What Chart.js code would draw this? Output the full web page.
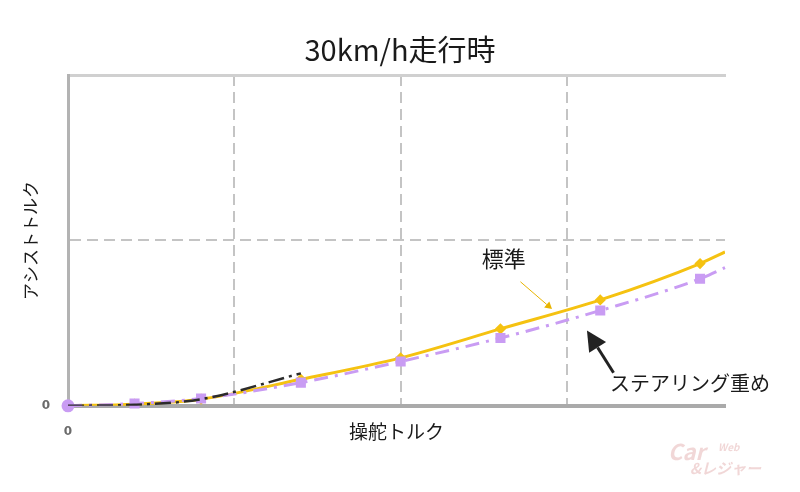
<!DOCTYPE html>
<html lang="ja">
<head>
  <meta charset="UTF-8">
  <title>30km/h走行時</title>
  <script src="https://cdn.jsdelivr.net/npm/chart.js"></script>
  <style>
    html, body { margin: 0; padding: 0; background: #fff; }
    #wrap { width: 800px; height: 492px; }
  </style>
</head>
<body>
<div id="wrap"><canvas id="assistChart" width="800" height="492"></canvas></div>

<script>
  // 操舵トルク (x) の測定点
  const torqueX = [0, 0.4, 0.8, 1.4, 2.0, 2.6, 3.2, 3.8, 3.95];
  // 標準
  const standardY = [0, 0.01, 0.04, 0.16, 0.29, 0.465, 0.64, 0.86, 0.93];
  // ステアリング重め
  const heavyY = [0, 0.014, 0.044, 0.14, 0.268, 0.41, 0.576, 0.768, 0.835];
  // 途中で切れている黒の一点鎖線
  const lightX = [0, 0.4, 0.8, 1.4];
  const lightY = [0, 0.006, 0.04, 0.196];
  // 目盛り
  const xTicks = [0, 1, 2, 3];
  const yTicks = [0, 1, 2];

  const pts = (xs, ys) => xs.map((x, i) => ({ x: x, y: ys[i] }));
  const lastHidden = (r, n) => Array.from({ length: n }, (_, i) => i === n - 1 ? 0 : r);

  const jp = '"Noto Sans CJK JP", "Noto Sans", sans-serif';
  const gridGray = '#c4c4c4';

  // 注記(標準 / ステアリング重め)と矢印
  const notesPlugin = {
    id: 'notes',
    afterDatasetsDraw(chart) {
      const { ctx, scales: { x, y } } = chart;
      const px = v => x.getPixelForValue(v);
      const py = v => y.getPixelForValue(v);

      ctx.save();
      ctx.fillStyle = '#1a1a1a';
      ctx.textAlign = 'center';
      ctx.textBaseline = 'middle';
      ctx.font = '22px ' + jp;
      ctx.fillText('標準', px(2.62), py(0.89));
      ctx.font = '20px ' + jp;
      ctx.fillText('ステアリング重め', px(3.74), py(0.135));

      // 細い黄色の矢印
      arrow(ctx, px(2.72), py(0.75), px(2.91), py(0.585), '#e8b400', 1, 7, 4);
      // 太い黒の矢印
      arrow(ctx, px(3.28), py(0.2), px(3.12), py(0.455), '#222', 3, 20, 10);

      // ウォーターマーク
      ctx.fillStyle = 'rgba(215,140,140,0.35)';
      ctx.font = 'italic bold 22px ' + jp;
      ctx.textAlign = 'left';
      ctx.fillText('Car', 668, 452);
      ctx.font = 'italic bold 10px ' + jp;
      ctx.fillText('Web', 718, 447);
      ctx.font = 'italic bold 15px ' + jp;
      ctx.fillText('&レジャー', 690, 468);
      ctx.restore();
    }
  };

  function arrow(ctx, x1, y1, x2, y2, color, w, headLen, headHalf) {
    const a = Math.atan2(y2 - y1, x2 - x1);
    const bx = x2 - headLen * Math.cos(a);
    const by = y2 - headLen * Math.sin(a);
    ctx.strokeStyle = color;
    ctx.fillStyle = color;
    ctx.lineWidth = w;
    ctx.beginPath();
    ctx.moveTo(x1, y1);
    ctx.lineTo(bx, by);
    ctx.stroke();
    ctx.beginPath();
    ctx.moveTo(x2, y2);
    ctx.lineTo(bx + headHalf * Math.sin(a), by - headHalf * Math.cos(a));
    ctx.lineTo(bx - headHalf * Math.sin(a), by + headHalf * Math.cos(a));
    ctx.closePath();
    ctx.fill();
  }

  new Chart(document.getElementById('assistChart').getContext('2d'), {
    type: 'line',
    data: {
      datasets: [{
        label: '標準',
        data: pts(torqueX, standardY),
        borderColor: '#f5c211',
        backgroundColor: '#f5c211',
        borderWidth: 3,
        pointStyle: 'rectRot',
        pointRadius: lastHidden(3.5, torqueX.length),
        cubicInterpolationMode: 'monotone',
        order: 3
      }, {
        label: 'ステアリング重め',
        data: pts(torqueX, heavyY),
        borderColor: '#c99cf3',
        backgroundColor: '#c99cf3',
        borderWidth: 3,
        borderDash: [14, 7, 3, 7],
        pointStyle: torqueX.map((_, i) => i === 0 ? 'circle' : 'rect'),
        pointRadius: lastHidden(5, torqueX.length),
        clip: false,
        cubicInterpolationMode: 'monotone',
        order: 2
      }, {
        label: 'ステアリング軽め',
        data: pts(lightX, lightY),
        borderColor: '#2b2b2b',
        borderWidth: 2.5,
        borderDash: [16, 5, 3, 5],
        pointRadius: 0,
        cubicInterpolationMode: 'monotone',
        order: 1
      }]
    },
    options: {
      responsive: false,
      animation: false,
      devicePixelRatio: 1,
      layout: { padding: { left: 0, right: 0, top: 0, bottom: 30 } },
      plugins: {
        legend: { display: false },
        tooltip: { enabled: false },
        title: {
          display: true,
          text: '30km/h走行時',
          color: '#1a1a1a',
          font: { family: jp, size: 29, weight: 'normal', lineHeight: 1.0 },
          padding: { top: 35, bottom: 3 }
        }
      },
      scales: {
        x: {
          type: 'linear',
          min: 0,
          max: 3.95,
          afterBuildTicks: s => { s.ticks = xTicks.map(v => ({ value: v })); },
          ticks: {
            includeBounds: false,
            padding: 19,
            color: '#6b6b6b',
            font: { size: 12, weight: 'bold', family: 'DejaVu Sans' },
            callback: v => v === 0 ? '0' : ''
          },
          grid: {
            drawTicks: false,
            lineWidth: 2,
            color: c => c.tick && c.tick.value === 0 ? 'rgba(0,0,0,0)' : gridGray
          },
          border: { display: true, color: '#aaaaaa', width: 4, dash: [11, 6] },
          title: {
            display: true,
            text: '操舵トルク',
            color: '#1a1a1a',
            font: { family: jp, size: 19 },
            padding: { top: -38, bottom: 19 }
          }
        },
        xTop: {
          type: 'linear',
          position: 'top',
          min: 0,
          max: 3.95,
          ticks: { display: false },
          grid: { display: false },
          border: { display: true, color: '#d0d0d0', width: 3 }
        },
        y: {
          type: 'linear',
          min: 0,
          max: 2,
          afterBuildTicks: s => { s.ticks = yTicks.map(v => ({ value: v })); },
          afterFit: s => { s.width = 68; },
          ticks: {
            padding: 18,
            color: '#6b6b6b',
            font: { size: 12, weight: 'bold', family: 'DejaVu Sans' },
            callback: v => v === 0 ? '0' : ''
          },
          grid: {
            drawTicks: false,
            lineWidth: 2,
            color: c => c.tick && (c.tick.value === 0 || c.tick.value === 2) ? 'rgba(0,0,0,0)' : gridGray
          },
          border: { display: true, color: '#b3b3b3', width: 3, dash: [11, 6] },
          title: {
            display: true,
            text: 'アシストトルク',
            color: '#1a1a1a',
            font: { family: jp, size: 17 },
            padding: { top: 20, bottom: 1 }
          }
        },
        // 右側の余白(タイトルを画像中央に置くための空の軸)
        yRight: {
          type: 'linear',
          position: 'right',
          min: 0,
          max: 2,
          afterFit: s => { s.width = 75; },
          ticks: { display: false },
          grid: { display: false },
          border: { display: false }
        }
      }
    },
    plugins: [notesPlugin]
  });
</script>
</body>
</html>
